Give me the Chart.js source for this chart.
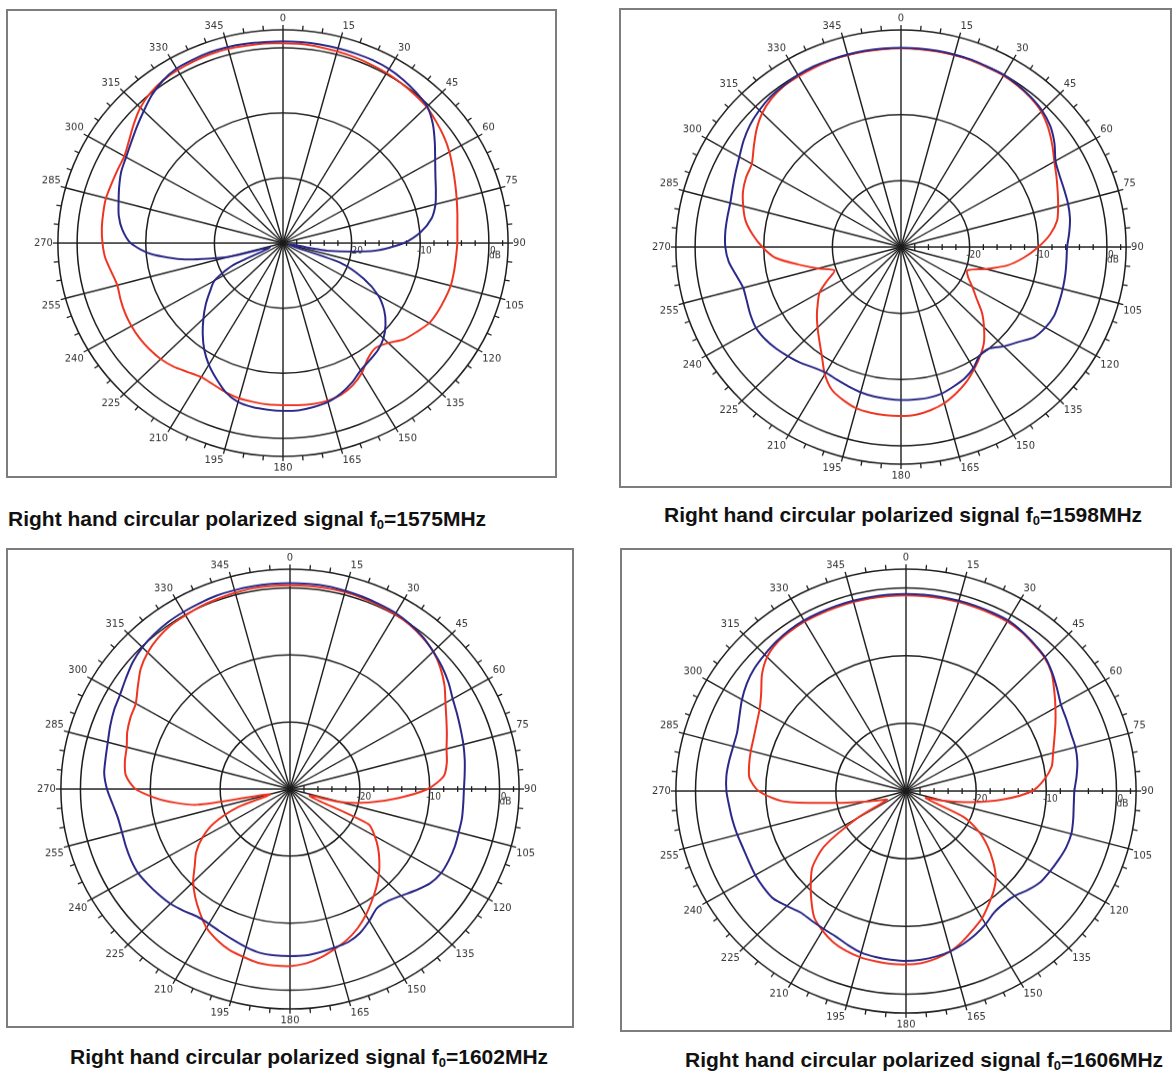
<!DOCTYPE html>
<html>
<head>
<meta charset="utf-8">
<script src="https://cdn.jsdelivr.net/npm/chart.js@4.4.1/dist/chart.umd.min.js"></script>
<style>
  body { margin: 0; background: #fff; width: 1174px; height: 1075px; position: relative; overflow: hidden; }
  .box { position: absolute; border: 2px solid #7d7d7d; box-sizing: border-box; }
  .plot { position: absolute; transform-origin: 50% 50%; }
  .plot canvas { display: block; }
  .title { position: absolute; font: bold 21px "Liberation Sans", Arial, sans-serif; color: #111; line-height: 24px; white-space: nowrap; }
  .title sub { font-size: 13px; line-height: 0; vertical-align: -3px; }
</style>
</head>
<body>

<div class="box" style="left:6px;top:9px;width:551px;height:469px"></div>
<div class="box" style="left:619px;top:8px;width:553px;height:480px"></div>
<div class="box" style="left:6px;top:548px;width:568px;height:480px"></div>
<div class="box" style="left:620px;top:548px;width:552px;height:484px"></div>

<div class="plot" style="left:31px;top:-5px;transform:scaleY(0.948)"><canvas id="c1" width="498" height="498"></canvas></div>
<div class="plot" style="left:649px;top:-1px;transform:scaleY(0.965)"><canvas id="c2" width="498" height="498"></canvas></div>
<div class="plot" style="left:34px;top:537px;transform:scaleY(0.96)"><canvas id="c3" width="506" height="506"></canvas></div>
<div class="plot" style="left:649px;top:538px;transform:scaleY(0.965)"><canvas id="c4" width="508" height="508"></canvas></div>

<div class="title" style="left:8px;top:507px">Right hand circular polarized signal f<sub>0</sub>=1575MHz</div>
<div class="title" style="left:664px;top:503px">Right hand circular polarized signal f<sub>0</sub>=1598MHz</div>
<div class="title" style="left:70px;top:1045px">Right hand circular polarized signal f<sub>0</sub>=1602MHz</div>
<div class="title" style="left:685px;top:1048px">Right hand circular polarized signal f<sub>0</sub>=1606MHz</div>

<script>
var GRID = '#1c1c1c';
var RED = 'rgb(238, 52, 32)';
var BLUE = 'rgb(42, 40, 135)';

// azimuth in degrees, one point every 5 degrees
var angleLabels = ['0','5','10','15','20','25','30','35','40','45','50','55',
  '60','65','70','75','80','85','90','95','100','105','110','115',
  '120','125','130','135','140','145','150','155','160','165','170','175',
  '180','185','190','195','200','205','210','215','220','225','230','235',
  '240','245','250','255','260','265','270','275','280','285','290','295',
  '300','305','310','315','320','325','330','335','340','345','350','355'];

var dbMin = -30;
var dbMax = 2.8;   // outer ring
var ringValues = [-20, -10, 0];
var axisTicks = [-28, -26, -24, -22, -18, -16, -14, -12, -8, -6, -4, -2, 2];
var axisLabels = ['-20', '-10', '0'];

// gain in dB, blue and red trace of each plot
var blue1575 = [1.0, 1.0, 1.0, 1.0, 1.0, 1.0, 0.9, 0.6, 0.2, -0.3, -1.5, -3.0,
  -4.4, -5.5, -6.3, -7.0, -8.0, -9.8, -12.4, -16.5, -23, -29, -21, -17,
  -14, -12, -10.5, -9.3, -8.5, -8.0, -7.4, -6.3, -5.4, -4.7, -4.4, -4.2,
  -4.2, -4.3, -4.4, -4.7, -5.6, -7.0, -8.4, -10.0, -11.8, -13.6, -15.3, -17.0,
  -18.5, -22, -28, -22, -15.5, -10.7, -7.8, -6.5, -5.7, -5.2, -4.6, -4.0,
  -3.6, -3.0, -2.2, -1.3, -0.3, 0.5, 1.0, 1.1, 1.2, 1.2, 1.1, 1.0];
var red1575 = [0.7, 0.7, 0.6, 0.5, 0.4, 0.3, 0.2, 0.0, -0.2, -0.4, -0.9, -1.4,
  -2.0, -2.7, -3.3, -3.8, -4.2, -4.5, -4.6, -4.7, -4.7, -4.7, -4.9, -5.1,
  -5.4, -6.2, -7.0, -8.3, -9.0, -8.4, -7.0, -5.9, -5.2, -4.9, -4.9, -5.0,
  -5.1, -5.1, -5.2, -5.3, -5.6, -6.0, -6.2, -5.8, -5.2, -4.8, -4.6, -4.5,
  -4.5, -4.6, -4.8, -5.0, -4.6, -4.0, -3.7, -3.5, -3.4, -3.3, -3.4, -3.4,
  -3.3, -2.6, -1.6, -0.6, 0.1, 0.5, 0.7, 0.8, 0.9, 0.9, 0.8, 0.8];

var blue1598 = [0.1, 0.1, 0.1, 0.1, 0.1, 0.0, 0.0, -0.2, -0.5, -0.9, -1.6, -2.7,
  -4.0, -4.5, -4.7, -4.8, -5.0, -5.4, -5.8, -5.8, -5.7, -5.6, -5.5, -5.4,
  -5.7, -6.3, -7.7, -8.8, -10.0, -10.0, -8.9, -8.1, -7.6, -7.1, -6.9, -6.9,
  -6.9, -7.0, -7.1, -7.3, -7.6, -7.9, -8.1, -7.8, -7.2, -6.7, -6.2, -5.8,
  -5.6, -5.8, -6.1, -6.2, -5.6, -4.8, -4.4, -4.3, -4.3, -4.25, -3.9, -3.4,
  -2.8, -2.0, -1.3, -0.8, -0.4, -0.2, 0.0, 0.1, 0.1, 0.1, 0.1, 0.1];
var red1598 = [0.0, 0.0, 0.0, 0.0, 0.0, -0.1, -0.1, -0.3, -0.6, -1.1, -2.0, -3.1,
  -4.2, -5.0, -5.7, -6.3, -6.9, -8.2, -10.0, -12.0, -14.2, -17.2, -19.7, -19.2,
  -18.0, -16.6, -14.6, -12.9, -11.2, -9.9, -8.7, -7.5, -6.5, -5.6, -5.0, -4.6,
  -4.5, -4.5, -4.6, -4.8, -5.4, -6.2, -7.8, -9.9, -11.5, -12.8, -14.0, -15.2,
  -16.3, -18.2, -19.7, -17.5, -14.8, -11.6, -9.8, -8.3, -7.0, -6.2, -5.5, -5.1,
  -4.9, -3.8, -2.5, -1.4, -0.7, -0.3, -0.2, -0.1, 0.0, 0.0, 0.0, 0.0];

var blue1602 = [0.7, 0.7, 0.7, 0.6, 0.5, 0.4, 0.3, 0.0, -0.4, -1.0, -1.6, -2.3,
  -3.1, -3.6, -4.0, -4.3, -4.6, -4.9, -5.1, -5.1, -5.0, -5.0, -4.9, -4.9,
  -5.0, -5.5, -6.5, -7.5, -8.2, -8.3, -7.3, -6.3, -5.7, -5.5, -5.3, -5.1,
  -5.1, -5.1, -5.2, -5.6, -6.1, -6.5, -6.8, -6.8, -6.3, -5.8, -5.5, -5.2,
  -4.9, -4.9, -5.0, -5.1, -5.0, -4.5, -3.8, -3.3, -3.2, -3.0, -2.6, -2.2,
  -1.9, -1.3, -0.6, -0.1, 0.2, 0.4, 0.5, 0.6, 0.7, 0.7, 0.7, 0.7];
var red1602 = [0.4, 0.4, 0.4, 0.4, 0.3, 0.2, 0.1, -0.1, -0.5, -1.0, -1.9, -3.0,
  -4.3, -5.3, -6.1, -6.8, -7.2, -7.9, -10.3, -14.5, -18.5, -22.5, -27, -17.6,
  -16.0, -14.6, -13.3, -12.0, -10.8, -9.6, -8.3, -7.1, -6.1, -5.3, -4.5, -3.9,
  -3.6, -3.6, -3.7, -4.1, -4.5, -5.2, -6.1, -7.5, -8.9, -10.4, -12.2, -13.6,
  -15.5, -18, -22, -27, -16.5, -11.5, -7.9, -6.4, -6.0, -5.8, -5.2, -4.8,
  -4.5, -3.4, -2.1, -1.2, -0.6, -0.2, -0.1, 0.1, 0.2, 0.3, 0.4, 0.4];

var blue1606 = [-0.9, -0.9, -0.9, -0.9, -0.9, -0.9, -0.9, -1.2, -1.6, -2.0, -2.8, -3.7,
  -4.5, -4.8, -5.0, -5.0, -5.2, -5.6, -6.0, -6.0, -5.8, -5.6, -5.7, -6.0,
  -6.3, -6.6, -7.3, -8.1, -8.3, -8.1, -7.3, -6.6, -6.0, -5.5, -5.2, -5.0,
  -4.9, -5.0, -5.1, -5.3, -5.8, -6.3, -6.5, -6.6, -6.6, -6.0, -5.3, -5.2,
  -5.2, -5.3, -5.3, -5.1, -4.9, -4.7, -4.4, -4.3, -4.4, -4.5, -4.4, -3.8,
  -3.0, -2.3, -1.8, -1.5, -1.2, -1.0, -0.9, -0.9, -0.9, -0.9, -0.9, -0.9];
var red1606 = [-1.1, -1.1, -1.1, -1.1, -1.1, -1.1, -1.1, -1.3, -1.7, -2.1, -2.9, -4.2,
  -5.4, -6.5, -7.5, -8.3, -8.9, -10.2, -12.0, -16.0, -20.5, -24.5, -27, -21,
  -18.0, -15.8, -13.8, -11.9, -10.6, -9.5, -8.3, -7.4, -6.4, -5.5, -4.9, -4.5,
  -4.4, -4.4, -4.5, -4.6, -4.9, -5.4, -6.2, -7.2, -9.0, -10.8, -12.6, -15.8,
  -22, -27, -26, -24, -20, -12.5, -9.0, -7.6, -7.3, -7.1, -6.9, -6.5,
  -5.9, -4.8, -3.2, -2.0, -1.4, -1.2, -1.1, -1.1, -1.1, -1.1, -1.1, -1.1];

var labelFont = '"Liberation Sans Narrow", "DejaVu Sans Condensed", "Liberation Sans", sans-serif';

// outer ring ticks, dB ticks along the 90 degree axis and their labels
var polarDecor = {
    id: 'polarDecor',
    beforeDatasetsDraw: function(chart) {
        var s = chart.scales.r;
        var ctx = chart.ctx;
        var outer = s.getDistanceFromCenterForValue(dbMax);
        var i90 = angleLabels.indexOf('90');
        ctx.save();
        ctx.strokeStyle = GRID;
        ctx.lineWidth = 1.3;
        for (var i = 0; i < angleLabels.length; i++) {
            var a = s.getPointPosition(i, outer);
            var b = s.getPointPosition(i, outer + 5);
            ctx.beginPath();
            ctx.moveTo(a.x, a.y);
            ctx.lineTo(b.x, b.y);
            ctx.stroke();
        }
        axisTicks.forEach(function(v) {
            var p = s.getPointPosition(i90, s.getDistanceFromCenterForValue(v));
            ctx.beginPath();
            ctx.moveTo(p.x, p.y - 3);
            ctx.lineTo(p.x, p.y + 3);
            ctx.stroke();
        });
        ctx.fillStyle = '#333';
        ctx.font = '10px ' + labelFont;
        ctx.textAlign = 'center';
        ctx.textBaseline = 'middle';
        ringValues.forEach(function(v, k) {
            var p = s.getPointPosition(i90, s.getDistanceFromCenterForValue(v));
            ctx.fillText(axisLabels[k], p.x + 4, p.y + 8);
        });
        var p0 = s.getPointPosition(i90, s.getDistanceFromCenterForValue(0));
        ctx.fillText('dB', p0.x + 6, p0.y + 13);
        ctx.restore();
    }
};

function makePolar(id, blueData, redData) {
    var cfg = {
        type: 'radar',
        data: {
            labels: angleLabels,
            datasets: [{
                label: 'blue',
                data: blueData,
                borderColor: BLUE,
                borderWidth: 2,
                pointRadius: 0,
                fill: false
            }, {
                label: 'red',
                data: redData,
                borderColor: RED,
                borderWidth: 2,
                pointRadius: 0,
                fill: false
            }]
        },
        options: {
            responsive: false,
            animation: false,
            elements: { line: { tension: 0.25 } },
            layout: { padding: 0 },
            plugins: {
                legend: { display: false },
                tooltip: { enabled: false }
            },
            scales: {
                r: {
                    min: dbMin,
                    max: dbMax,
                    afterBuildTicks: function(scale) {
                        scale.ticks = [dbMin].concat(ringValues, [dbMax]).map(function(v) { return { value: v }; });
                    },
                    ticks: { display: false },
                    grid: { circular: true, color: GRID, lineWidth: 1.5 },
                    angleLines: {
                        color: GRID,
                        lineWidth: function(ctx) { return ctx.index % 3 === 0 ? 1.4 : 0; }
                    },
                    pointLabels: {
                        callback: function(label, index) { return index % 3 === 0 ? label : ''; },
                        color: '#333',
                        padding: 5,
                        font: { family: labelFont, size: 11 }
                    }
                }
            }
        },
        plugins: [polarDecor]
    };
    return new Chart(document.getElementById(id).getContext('2d'), cfg);
}

window.onload = function() {
    makePolar('c1', blue1575, red1575);
    makePolar('c2', blue1598, red1598);
    makePolar('c3', blue1602, red1602);
    makePolar('c4', blue1606, red1606);
};
</script>
</body>
</html>
